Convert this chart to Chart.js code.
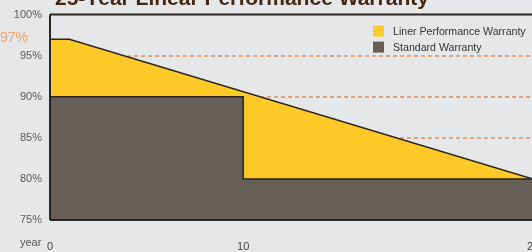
<!DOCTYPE html>
<html>
<head>
<meta charset="utf-8">
<script src="https://cdn.jsdelivr.net/npm/chart.js@4.4.1/dist/chart.umd.min.js"></script>
<style>
  html, body { margin: 0; padding: 0; background: #e6e7e9; overflow: hidden; }
  #wrap { position: relative; width: 560px; height: 252px; }
</style>
</head>
<body>
<div id="wrap"><canvas id="warrantyChart" width="560" height="252"></canvas></div>
<script>
// datos
const linerYears = [0, 1, 25];
const linerValues = [97, 97, 80];
const standardYears = [0, 10, 10, 25];
const standardValues = [90, 90, 80, 80];
const yTicks = [75, 80, 85, 90, 95, 100];
const xTicks = [0, 10, 25];
const seriesNames = ['Liner Performance Warranty', 'Standard Warranty'];
const seriesColors = ['#ffca28', '#655f57'];

const toPoints = (xs, ys) => xs.map((x, i) => ({ x: x, y: ys[i] }));

// titulo, bordes, etiqueta 97% y leyenda dibujados a mano
const extras = {
    id: 'extras',
    afterDatasetsDraw(chart) {
        const { ctx, chartArea: a, scales } = chart;
        ctx.save();
        ctx.strokeStyle = '#2b2420';
        ctx.lineWidth = 2;
        ctx.beginPath();
        ctx.moveTo(a.left, a.top); ctx.lineTo(a.right + 5, a.top);
        ctx.moveTo(a.left, a.top); ctx.lineTo(a.left, a.bottom);
        ctx.moveTo(a.left, a.bottom); ctx.lineTo(a.right + 5, a.bottom);
        ctx.stroke();

        ctx.fillStyle = '#452612';
        ctx.font = 'bold 21px "Liberation Sans", Arial, sans-serif';
        ctx.textBaseline = 'alphabetic';
        ctx.fillText('25-Year Linear Performance Warranty', a.left + 5, 5);

        ctx.fillStyle = '#f2a466';
        ctx.font = '14px "Liberation Sans", Arial, sans-serif';
        ctx.textBaseline = 'middle';
        ctx.textAlign = 'left';
        ctx.fillText('97%', 0, scales.y.getPixelForValue(97) - 1);

        ctx.fillStyle = '#555';
        ctx.font = '11px "Liberation Sans", Arial, sans-serif';
        ctx.fillText('year', 20, 243);

        const lx = a.right - 160;
        seriesNames.forEach((name, i) => {
            const cy = a.top + 16 + i * 16;
            ctx.fillStyle = seriesColors[i];
            ctx.fillRect(lx, cy - 5, 11, 11);
            ctx.fillStyle = '#333';
            ctx.font = '10.6px "Liberation Sans", Arial, sans-serif';
            ctx.fillText(name, lx + 20, cy + 1);
        });
        ctx.restore();
    }
};

const ctx = document.getElementById('warrantyChart').getContext('2d');
new Chart(ctx, {
    type: 'line',
    data: {
        datasets: [{
            label: seriesNames[1],
            data: toPoints(standardYears, standardValues),
            backgroundColor: seriesColors[1],
            borderColor: '#2b2420',
            borderWidth: 1.5,
            fill: 'start',
            pointRadius: 0,
            tension: 0
        }, {
            label: seriesNames[0],
            data: toPoints(linerYears, linerValues),
            backgroundColor: seriesColors[0],
            borderColor: '#2b2420',
            borderWidth: 1.5,
            fill: 'start',
            pointRadius: 0,
            tension: 0
        }]
    },
    options: {
        responsive: false,
        animation: false,
        layout: { padding: { top: 13, right: 27, left: 0, bottom: 0 } },
        plugins: {
            legend: { display: false },
            tooltip: { enabled: false }
        },
        scales: {
            x: {
                type: 'linear',
                min: 0,
                max: 25,
                afterBuildTicks: (s) => { s.ticks = xTicks.map(v => ({ value: v })); },
                afterFit: (s) => { s.height = 32; },
                grid: { display: false },
                border: { display: false },
                ticks: {
                    color: '#444',
                    padding: 12,
                    maxRotation: 0,
                    font: { size: 11, family: "'Liberation Sans', Arial" }
                }
            },
            y: {
                min: 75,
                max: 100,
                afterBuildTicks: (s) => { s.ticks = yTicks.map(v => ({ value: v })); },
                afterFit: (s) => { s.width = 50; },
                border: { display: false, dash: [4, 3] },
                grid: {
                    drawTicks: false,
                    color: (c) => (c.tick.value === 75 || c.tick.value === 100) ? 'transparent' : '#e0a47c',
                    lineWidth: 2
                },
                ticks: {
                    color: '#5a5a5a',
                    padding: 8,
                    callback: (v) => v + '%',
                    font: { size: 11, family: "'Liberation Sans', Arial" }
                }
            }
        }
    },
    plugins: [extras]
});
</script>
</body>
</html>
